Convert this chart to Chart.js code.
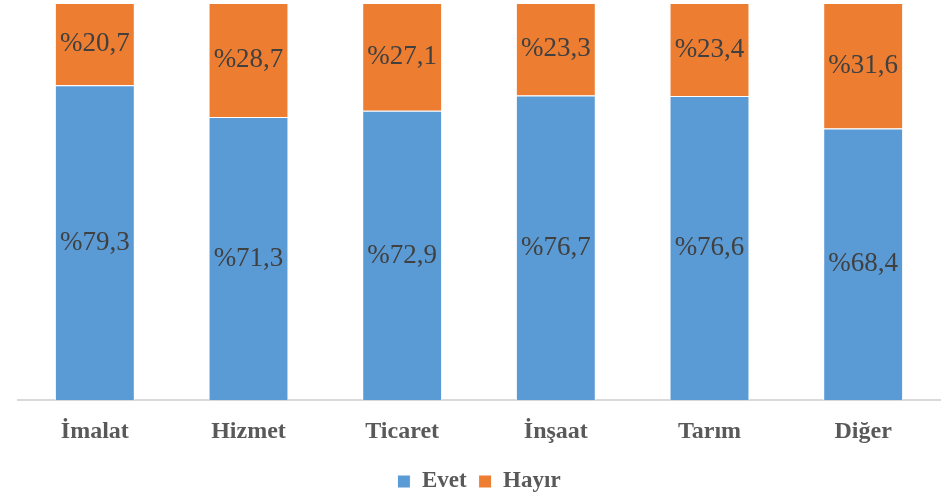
<!DOCTYPE html>
<html>
<head>
<meta charset="utf-8">
<script src="https://cdn.jsdelivr.net/npm/chart.js@4"></script>
<style>
  html, body { margin: 0; padding: 0; background: #fff; }
  #wrap { width: 950px; height: 497px; }
</style>
</head>
<body>
<div id="wrap"><canvas id="chart" width="950" height="497"></canvas></div>
<script>
// chart data
var categories = ['İmalat', 'Hizmet', 'Ticaret', 'İnşaat', 'Tarım', 'Diğer'];
var evet = [79.3, 71.3, 72.9, 76.7, 76.6, 68.4];
var hayir = [20.7, 28.7, 27.1, 23.3, 23.4, 31.6];

var serif = '"Liberation Serif", "DejaVu Serif", serif';

// draws "%xx,x" in the middle of each bar segment
var segmentLabels = {
    id: 'segmentLabels',
    afterDatasetsDraw: function (chart) {
        var ctx = chart.ctx;
        ctx.save();
        ctx.font = '27px ' + serif;
        ctx.fillStyle = '#404040';
        ctx.textAlign = 'center';
        ctx.textBaseline = 'middle';
        chart.data.datasets.forEach(function (ds, i) {
            var meta = chart.getDatasetMeta(i);
            meta.data.forEach(function (bar, j) {
                var y = (bar.y + bar.base) / 2;
                var txt = '%' + ds.data[j].toFixed(1).replace('.', ',');
                ctx.fillText(txt, bar.x, y);
            });
        });
        ctx.restore();
    }
};

var ctx = document.getElementById('chart').getContext('2d');
var chart = new Chart(ctx, {
    type: 'bar',
    data: {
        labels: categories,
        datasets: [{
            label: 'Evet',
            data: evet,
            backgroundColor: '#5B9BD5',
            borderColor: '#ffffff',
            borderWidth: 1
        }, {
            label: 'Hayır',
            data: hayir,
            backgroundColor: '#ED7D31',
            borderColor: '#ffffff',
            borderWidth: 1
        }]
    },
    options: {
        responsive: false,
        animation: false,
        layout: {
            padding: { left: 18, right: 10, top: 3, bottom: -6 }
        },
        datasets: {
            bar: { categoryPercentage: 0.52, barPercentage: 1 }
        },
        scales: {
            x: {
                stacked: true,
                grid: { display: false, drawTicks: false },
                border: { color: '#d9d9d9', width: 2 },
                ticks: {
                    color: '#595959',
                    padding: 17,
                    font: { family: serif, size: 24, weight: 'bold' }
                },
                afterFit: function (scale) { scale.height -= 5; }
            },
            y: {
                stacked: true,
                display: false,
                min: 0,
                max: 100
            }
        },
        plugins: {
            legend: {
                display: true,
                position: 'bottom',
                labels: {
                    color: '#595959',
                    boxWidth: 13,
                    boxHeight: 13,
                    padding: 12,
                    font: { family: serif, size: 23, weight: 'bold' }
                }
            },
            tooltip: { enabled: false }
        }
    },
    plugins: [segmentLabels]
});
</script>
</body>
</html>
